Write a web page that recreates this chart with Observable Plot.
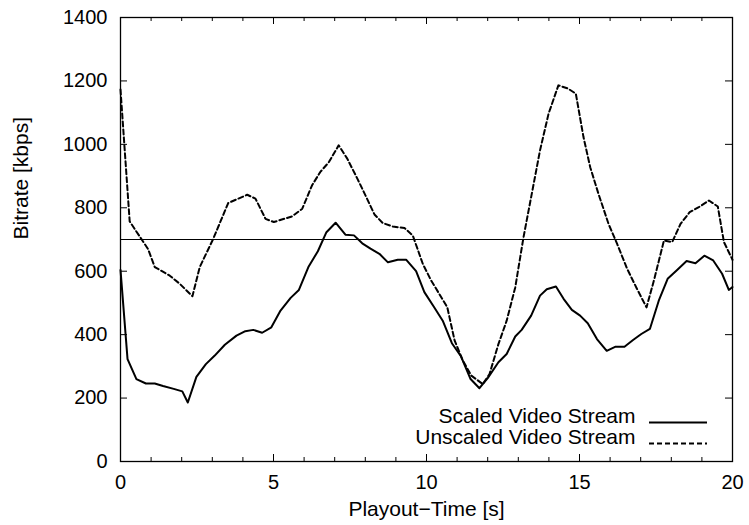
<!DOCTYPE html>
<html><head><meta charset="utf-8">
<script src="https://cdn.jsdelivr.net/npm/d3@7"></script>
<script src="https://cdn.jsdelivr.net/npm/@observablehq/plot@0.6"></script>
<style>body{margin:0;background:#fff}</style>
</head><body><div id="chart"></div>
<script>
// ---- data ----
const scaledTime = [0,0.23,0.52,0.83,1.12,1.39,1.74,2.02,2.2,2.48,2.79,3.08,3.41,3.79,4.08,4.34,4.63,4.93,5.23,5.56,5.83,6.15,6.45,6.73,7.03,7.35,7.63,7.9,8.17,8.46,8.74,9.06,9.34,9.66,9.93,10.24,10.53,10.83,11.13,11.44,11.73,12.0,12.35,12.62,12.9,13.11,13.42,13.71,13.93,14.23,14.48,14.75,15.02,15.27,15.57,15.89,16.18,16.47,16.75,17.02,17.3,17.59,17.88,18.19,18.5,18.79,19.08,19.37,19.66,19.88,20];
const scaledRate = [604,323,260,246,246,238,229,221,186,267,307,334,368,397,411,415,406,423,476,516,541,615,663,723,753,715,713,688,671,655,628,636,636,600,534,488,444,373,331,260,231,263,313,339,394,415,460,523,543,552,513,478,460,436,386,349,362,362,383,402,418,507,576,604,632,625,649,634,592,541,550];
const unscaledTime = [0,0.3,0.9,1.12,1.61,1.94,2.35,2.59,3.03,3.52,4.14,4.41,4.74,5.01,5.61,5.94,6.26,6.53,6.81,7.13,7.41,7.74,8.05,8.3,8.57,8.9,9.28,9.55,9.88,10.15,10.42,10.68,10.92,11.19,11.46,11.84,12.06,12.35,12.62,12.9,13.17,13.44,13.71,13.99,14.31,14.62,14.88,15.13,15.35,15.62,15.95,16.23,16.56,16.88,17.19,17.43,17.76,18.03,18.3,18.6,18.9,19.23,19.52,19.72,20];
const unscaledRate = [1173,757,670,613,586,560,521,613,702,815,841,829,765,755,773,797,871,913,944,997,955,892,830,779,752,741,736,713,623,571,528,486,381,318,271,244,276,370,444,549,707,844,981,1097,1186,1176,1160,1023,928,844,749,686,607,544,486,570,697,692,749,786,802,823,804,692,636];
const thresholdRate = 700;
const xMajorTicks = [0,5,10,15,20];
const xMinorTicks = d3.range(0,21,1);
const yTicks = [0,200,400,600,800,1000,1200,1400];
const xLabel = "Playout\u2212Time [s]";
const yLabel = "Bitrate [kbps]";
const seriesNames = ["Scaled Video Stream","Unscaled Video Stream"];

// ---- layout ----
const W=749, H=525, mL=120, mR=17, mT=17, mB=64;
const plotW = W-mL-mR, plotH = H-mT-mB;
const font = "'Liberation Sans', Arial, Helvetica, sans-serif";
const fsTick = 20, fsLabel = 21;

const scaled = scaledTime.map((t,i)=>({t, v: scaledRate[i]}));
const unscaled = unscaledTime.map((t,i)=>({t, v: unscaledRate[i]}));

const chart = Plot.plot({
  width: W, height: H, marginLeft: mL, marginRight: mR, marginTop: mT, marginBottom: mB,
  style: {fontFamily: font, fontSize: fsTick+"px", background: "#fff", color: "#000"},
  x: {domain: [0,20], axis: null},
  y: {domain: [0,1400], axis: null},
  marks: [
    Plot.ruleY([thresholdRate], {stroke: "#000", strokeWidth: 1}),
    Plot.line(unscaled, {x: "t", y: "v", stroke: "#000", strokeWidth: 2, strokeDasharray: "5,3"}),
    Plot.line(scaled, {x: "t", y: "v", stroke: "#000", strokeWidth: 2}),
    Plot.tickX(xMinorTicks, {x: d=>d, insetTop: plotH-4, stroke: "#000"}),
    Plot.tickX(xMinorTicks, {x: d=>d, insetBottom: plotH-4, stroke: "#000"}),
    Plot.tickX(xMajorTicks, {x: d=>d, insetTop: plotH-7, stroke: "#000"}),
    Plot.tickX(xMajorTicks, {x: d=>d, insetBottom: plotH-7, stroke: "#000"}),
    Plot.tickY(yTicks, {y: d=>d, insetRight: plotW-7, stroke: "#000"}),
    Plot.tickY(yTicks, {y: d=>d, insetLeft: plotW-7, stroke: "#000"}),
    Plot.frame({stroke: "#000", strokeWidth: 1.3}),
    Plot.text(yTicks, {y: d=>d, text: d=>String(d), frameAnchor: "left", dx: -13, textAnchor: "end", fill: "#000"}),
    Plot.text(xMajorTicks, {x: d=>d, text: d=>String(d), frameAnchor: "bottom", dy: 13, lineAnchor: "top", fill: "#000"}),
    Plot.text([xLabel], {text: d=>d, frameAnchor: "bottom", dy: 54, fontSize: fsLabel, fill: "#000"}),
    Plot.text([yLabel], {text: d=>d, frameAnchor: "left", dx: -99, rotate: -90, fontSize: fsLabel, fill: "#000"}),
    Plot.text([seriesNames[0]], {text: d=>d, frameAnchor: "bottom-right", dx: -97, dy: -38.4, textAnchor: "end", fontSize: fsLabel, fill: "#000"}),
    Plot.text([seriesNames[1]], {text: d=>d, frameAnchor: "bottom-right", dx: -97, dy: -17.4, textAnchor: "end", fontSize: fsLabel, fill: "#000"})
  ]
});
document.getElementById("chart").appendChild(chart);

// legend line samples
const svg = d3.select(chart);
const right = W - mR, bottom = H - mB;
const samples = [{dy: 38.4, dash: null}, {dy: 17.4, dash: "5,3"}];
samples.forEach(s => {
  const l = svg.append("line")
    .attr("x1", right-83).attr("x2", right-25)
    .attr("y1", bottom - s.dy).attr("y2", bottom - s.dy)
    .attr("stroke", "#000").attr("stroke-width", 2);
  if (s.dash) l.attr("stroke-dasharray", s.dash);
});
</script>
</body></html>
